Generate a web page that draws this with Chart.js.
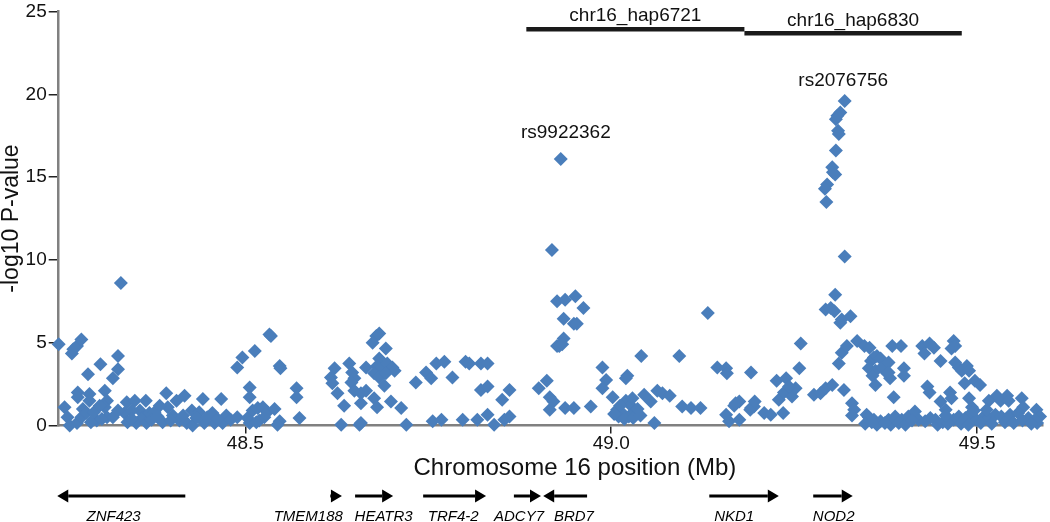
<!DOCTYPE html>
<html>
<head>
<meta charset="utf-8">
<script src="https://cdn.jsdelivr.net/npm/chart.js@4.4.0/dist/chart.umd.min.js"></script>
<style>
  html, body { margin: 0; padding: 0; background: #fff; }
  #wrap { width: 1050px; height: 522px; }
</style>
</head>
<body>
<div id="wrap"><canvas id="assocChart" width="1050" height="522"></canvas></div>
<script>
// SNP positions (Mb) and -log10 P values left to right
const snpPos = [
  // 48.24 - 48.48
  48.245,48.263,48.265,48.270,48.276,48.302,48.326,48.326,48.319,48.285,
  48.271,48.271,48.287,48.287,48.308,48.311,48.308,48.253,48.278,48.330,
  48.257,48.260,48.270,48.276,48.283,48.297,48.311,48.319,48.338,48.335,
  48.339,48.349,48.351,48.356,48.360,48.365,48.369,48.376,48.387,48.392,
  48.394,48.401,48.406,48.410,48.417,48.420,48.427,48.428,48.437,48.442,
  48.444,48.455,48.458,48.467,48.469,48.474,48.364,48.383,48.345,48.326,
  48.293,48.301,48.289,48.304,48.345,48.372,48.380,48.398,48.415,48.433,
  48.448,48.462,48.480,
  // 48.48 - 48.72
  48.489,48.496,48.489,48.513,48.533,48.535,48.547,48.548,48.506,48.506,
  48.503,48.510,48.517,48.524,48.526,48.519,48.506,48.547,48.544,48.570,
  48.570,48.574,48.631,48.656,48.658,48.622,48.617,48.619,48.626,48.635,
  48.642,48.646,48.649,48.645,48.649,48.658,48.665,48.658,48.676,48.680,
  48.699,48.713,48.679,48.683,48.674,48.692,48.683,48.680,48.687,48.694,
  48.701,48.704,48.676,48.683,48.692,48.665,48.690,48.530,48.540,48.515,
  // 48.72 - 49.10
  48.720,48.733,48.747,48.754,48.761,48.772,48.783,48.801,48.806,48.822,
  48.831,48.822,48.831,48.861,48.851,48.756,48.768,48.797,48.817,48.831,
  48.840,48.854,48.861,48.901,48.912,48.916,48.921,48.916,48.937,48.949,
  48.926,48.935,48.929,48.933,48.926,48.937,48.951,48.962,48.935,48.949,
  48.953,48.919,48.931,48.972,48.988,48.993,48.988,49.002,49.022,49.020,
  49.041,49.093,
  // 49.00 - 49.20
  49.008,49.015,49.020,49.027,49.029,49.033,49.010,49.024,49.012,49.018,
  49.030,49.036,49.004,49.040,49.045,49.054,49.063,49.070,49.080,49.059,
  49.097,49.109,49.122,49.132,49.145,49.157,49.158,49.157,49.161,49.175,
  49.168,49.175,49.191,49.191,49.195,49.190,49.170,
  // 49.20 - 49.43
  49.196,49.209,49.218,49.235,49.226,49.239,49.229,49.236,49.247,49.252,
  49.243,49.257,49.259,49.277,49.286,49.293,49.302,49.318,49.311,49.315,
  49.322,49.313,49.315,49.327,49.293,49.300,49.305,49.306,49.319,49.294,
  49.295,49.292,49.302,49.303,49.306,49.307,49.310,49.311,49.313,49.309,
  49.307,49.319,49.329,49.332,49.329,49.336,49.346,49.353,49.355,49.359,
  49.363,49.368,49.352,49.361,49.370,49.357,49.377,49.361,49.381,49.379,
  49.379,49.386,49.384,49.396,49.400,49.400,49.425,49.428,49.349,49.359,
  49.368,49.379,49.388,49.397,49.406,49.415,49.420,49.429,49.382,49.352,
  49.363,49.374,49.393,49.402,49.411,49.347,49.356,
  // 49.43 - 49.59
  49.435,49.441,49.468,49.470,49.465,49.450,49.470,49.475,49.486,49.479,
  49.489,49.483,49.497,49.504,49.432,49.435,49.450,49.463,49.465,49.457,
  49.489,49.493,49.516,49.527,49.532,49.541,49.543,49.561,49.563,49.581,
  49.586,49.582,49.436,49.443,49.468,49.475,49.484,49.492,49.499,49.509,
  49.516,49.525,49.533,49.545,49.556,49.570,49.579,49.446,49.453,49.460,
  49.478,49.488,49.505,49.520,49.538,49.550,49.562,49.574,49.457,49.496,
  49.513
];
const snpLogP = [
  4.9,4.35,4.6,4.8,5.2,3.7,4.2,3.4,2.85,3.1,
  2.0,1.7,1.9,1.5,2.1,1.5,1.1,1.1,1.0,8.6,
  0.5,0.0,0.15,0.5,0.75,0.3,0.5,0.5,1.4,0.75,
  0.2,1.5,0.15,0.9,0.5,0.15,0.75,0.8,0.2,1.95,
  1.1,0.6,1.5,0.3,1.8,0.15,0.9,0.0,0.8,1.6,
  0.15,0.75,0.15,1.6,0.15,0.6,1.5,1.2,0.9,0.9,
  0.8,1.2,0.2,0.4,0.4,0.35,0.55,0.3,0.6,0.45,
  0.5,0.4,0.35,

  0.5,4.1,3.5,4.5,5.5,5.4,3.6,3.45,2.3,1.7,
  0.45,0.9,1.05,1.1,0.5,0.3,0.15,0.25,0.05,2.25,
  1.7,0.45,0.05,0.05,0.15,3.45,2.9,2.55,1.95,1.2,
  3.75,3.2,2.85,2.6,2.1,1.95,2.1,1.35,1.65,1.1,
  1.45,1.05,5.4,5.55,5.0,4.65,4.05,3.6,3.5,3.75,
  3.5,3.3,3.15,2.9,3.15,3.5,2.4,0.8,1.0,0.2,

  0.05,2.6,3.2,2.85,3.75,3.85,2.9,3.85,3.75,3.75,
  3.75,2.15,2.35,2.15,1.55,0.25,0.35,0.35,0.35,0.65,
  0.05,0.35,0.55,2.25,2.7,1.7,1.45,0.95,1.05,1.05,
  4.8,5.25,4.8,4.9,7.5,7.6,7.8,7.1,6.45,6.15,
  6.15,10.6,16.1,1.15,3.5,2.75,2.25,1.7,3.0,2.85,
  4.2,4.2,

  0.95,0.75,1.5,1.2,1.65,0.85,0.55,0.55,1.2,0.4,
  0.45,1.0,0.7,0.6,1.85,1.45,2.1,1.95,1.8,0.15,
  1.15,1.05,1.05,6.8,3.5,3.45,3.15,0.65,0.25,0.35,
  1.2,1.45,3.2,1.05,1.15,0.95,1.35,

  1.45,0.75,0.65,0.75,2.7,2.85,1.55,2.0,1.75,2.25,
  2.35,3.45,4.95,1.85,1.95,2.25,2.45,2.15,3.75,4.4,
  4.8,6.2,6.4,6.6,7.0,7.1,6.9,7.9,10.2,13.5,
  14.55,14.3,15.6,15.3,15.15,16.6,17.8,17.6,18.9,18.7,
  18.5,19.6,1.35,0.95,0.6,5.1,4.8,4.7,3.9,4.1,
  4.2,4.05,3.45,3.3,3.5,3.0,3.15,2.45,2.85,3.8,
  3.2,1.7,4.8,4.8,3.45,3.0,4.8,4.35,0.65,0.35,
  0.25,0.35,0.55,0.35,0.55,0.85,0.35,0.25,0.05,0.5,
  0.05,0.15,0.15,0.05,0.3,0.1,0.2,

  4.95,4.7,5.1,4.8,4.65,3.9,3.8,3.5,3.6,3.3,
  3.3,2.55,2.7,2.45,2.35,2.0,1.45,2.0,1.65,0.95,
  1.65,1.1,1.5,1.8,1.5,1.8,1.5,1.65,1.1,0.95,
  0.55,0.15,0.45,0.35,0.35,0.55,0.45,0.75,0.35,0.55,
  0.45,0.65,0.55,0.65,0.75,0.45,0.35,0.05,0.2,0.1,
  0.1,0.05,0.15,0.1,0.2,0.15,0.3,0.1,0.6,0.9,
  0.95
];

// axes
const xMin = 48.245, xMax = 49.59;
const xTickValues = [48.5, 49.0, 49.5];
const yMin = 0, yMax = 25, yStep = 5;

// labelled SNPs
const snpLabels = ['rs9922362', 'rs2076756'];
const snpLabelPos = [48.938, 49.317];
const snpLabelLogP = [17.7, 20.8];

// haplotype blocks along the top
const hapNames = ['chr16_hap6721', 'chr16_hap6830'];
const hapStart = [48.884, 49.182];
const hapEnd = [49.182, 49.479];
const hapLevel = [23.93, 23.68];

// genes under the axis (strand: 1 = right, -1 = left)
const geneNames = ['ZNF423', 'TMEM188', 'HEATR3', 'TRF4-2', 'ADCY7', 'BRD7', 'NKD1', 'NOD2'];
const geneStart = [48.243, 48.616, 48.650, 48.743, 48.867, 48.907, 49.134, 49.276];
const geneEnd   = [48.418, 48.632, 48.702, 48.829, 48.904, 48.967, 49.229, 49.330];
const geneStrand = [-1, 1, 1, 1, 1, -1, 1, 1];
const geneLabelPos = [48.320, 48.586, 48.689, 48.784, 48.874, 48.949, 49.168, 49.304];

const FONT = '"Liberation Sans", Arial, Helvetica, sans-serif';
const dotColor = 'rgb(74,126,187)';

const trackPlugin = {
  id: 'tracks',
  afterDraw(chart) {
    const ctx = chart.ctx;
    const xs = chart.scales.x, ys = chart.scales.y, area = chart.chartArea;
    ctx.save();
    ctx.textAlign = 'center';
    ctx.textBaseline = 'middle';

    // haplotype bars
    hapNames.forEach((name, i) => {
      const x1 = xs.getPixelForValue(hapStart[i]);
      const x2 = xs.getPixelForValue(hapEnd[i]);
      const y = ys.getPixelForValue(hapLevel[i]);
      ctx.strokeStyle = '#1a1a1a';
      ctx.lineWidth = 4.5;
      ctx.beginPath(); ctx.moveTo(x1, y); ctx.lineTo(x2, y); ctx.stroke();
      ctx.fillStyle = '#111';
      ctx.font = '19px ' + FONT;
      ctx.fillText(name, (x1 + x2) / 2, y - 13);
    });

    // SNP labels
    ctx.font = '19px ' + FONT;
    ctx.fillStyle = '#111';
    snpLabels.forEach((lab, i) => {
      ctx.fillText(lab, xs.getPixelForValue(snpLabelPos[i]), ys.getPixelForValue(snpLabelLogP[i]));
    });

    // x axis title (drawn by hand, sits a little right of centre)
    ctx.font = '24px ' + FONT;
    ctx.fillText('Chromosome 16 position (Mb)', (area.left + area.right) / 2 + 24, area.bottom + 43);

    // gene arrows
    const ay = area.bottom + 70.5;
    const head = 11, half = 6.5;
    ctx.strokeStyle = '#000';
    ctx.fillStyle = '#000';
    ctx.lineWidth = 3;
    geneNames.forEach((g, i) => {
      const a = xs.getPixelForValue(geneStart[i]);
      const b = xs.getPixelForValue(geneEnd[i]);
      const tip = geneStrand[i] > 0 ? b : a;
      const tail = geneStrand[i] > 0 ? a : b;
      const dir = geneStrand[i];
      const base = tip - dir * head;
      if ((tip - tail) * dir > head) {
        ctx.beginPath(); ctx.moveTo(tail, ay); ctx.lineTo(base, ay); ctx.stroke();
      }
      ctx.beginPath();
      ctx.moveTo(tip, ay);
      ctx.lineTo(base, ay - half);
      ctx.lineTo(base, ay + half);
      ctx.closePath();
      ctx.fill();
    });

    ctx.font = 'italic 15px ' + FONT;
    geneNames.forEach((g, i) => {
      ctx.fillText(g, xs.getPixelForValue(geneLabelPos[i]), area.bottom + 91);
    });
    ctx.restore();
  }
};

new Chart(document.getElementById('assocChart'), {
  type: 'scatter',
  data: {
    datasets: [{
      data: snpPos.map((p, i) => ({ x: p, y: snpLogP[i] })),
      pointStyle: 'rectRot',
      pointRadius: 7,
      pointBorderWidth: 0,
      backgroundColor: dotColor,
      borderColor: dotColor,
      clip: false
    }]
  },
  options: {
    responsive: false,
    animation: false,
    devicePixelRatio: 1,
    layout: { padding: { left: 0, right: 5, top: 0, bottom: 0 } },
    plugins: { legend: { display: false }, tooltip: { enabled: false } },
    scales: {
      x: {
        type: 'linear',
        min: xMin,
        max: xMax,
        afterBuildTicks: s => { s.ticks = xTickValues.map(v => ({ value: v })); },
        afterFit: s => { s.height = 96.5; },
        ticks: {
          callback: v => Number(v).toFixed(1),
          color: '#111',
          font: { family: FONT, size: 19, lineHeight: 1 },
          padding: 1,
          maxRotation: 0,
          autoSkip: false
        },
        grid: { drawOnChartArea: false, drawTicks: true, tickLength: 8, color: '#222', lineWidth: 1.5 },
        border: { color: '#808080', width: 2.5 }
      },
      y: {
        min: yMin,
        max: yMax,
        afterFit: s => { s.width = 58.7; },
        ticks: {
          stepSize: yStep,
          color: '#111',
          font: { family: FONT, size: 19, lineHeight: 1 },
          padding: 2
        },
        title: {
          display: true,
          text: '-log10 P-value',
          color: '#111',
          font: { family: FONT, size: 23, lineHeight: 1 },
          padding: 0
        },
        grid: { drawOnChartArea: false, drawTicks: true, tickLength: 10, color: '#222', lineWidth: 1.5 },
        border: { color: '#808080', width: 2.5 }
      }
    }
  },
  plugins: [trackPlugin]
});
</script>
</body>
</html>
